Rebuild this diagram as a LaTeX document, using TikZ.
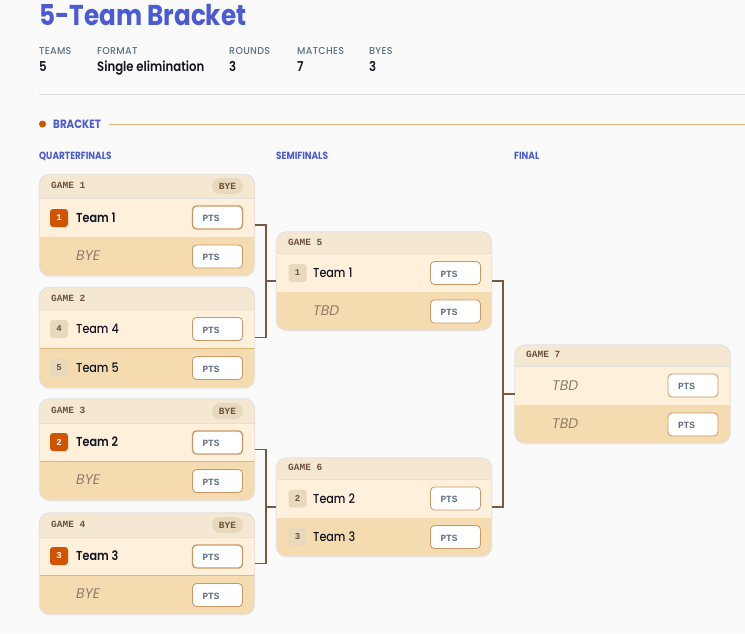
\documentclass[tikz,border=0pt]{standalone}
\usepackage{fontspec}
\setmainfont{Poppins}[FakeStretch=0.86]
\setmonofont{Liberation Mono}
\newfontfamily\keyfont{Poppins Medium}[FakeStretch=0.95,LetterSpace=3]
\newfontfamily\mediumfont{Poppins Medium}[FakeStretch=0.86]
\newfontfamily\strongfont{Poppins SemiBold}[FakeStretch=0.86]
\newfontfamily\blankfont{Poppins}[FakeStretch=1]
\usetikzlibrary{calc,positioning,shadows}
\definecolor{pagebg}{HTML}{FAFAFA}
\definecolor{indigo}{HTML}{4A5BD4}
\definecolor{burnt}{HTML}{D35400}
\definecolor{headbg}{HTML}{F4E8D3}
\definecolor{rowone}{HTML}{FEF0DA}
\definecolor{rowtwo}{HTML}{F5DCB0}
\definecolor{cardline}{HTML}{E2DFDC}
\definecolor{tan}{HTML}{CB9764}
\definecolor{sand}{HTML}{DCB57F}
\definecolor{bracketline}{HTML}{7A5A3A}
\definecolor{inkbrown}{HTML}{6B5238}
\definecolor{seedbg}{HTML}{E8D8BD}
\definecolor{ptsink}{HTML}{5F6F82}
\definecolor{nearblack}{HTML}{14141F}
\tikzstyle{title}     = [anchor=west, inner sep=0pt, text height=20pt, text depth=0pt, font=\fontsize{28.7}{29}\selectfont\bfseries, text=indigo]
\tikzstyle{metakey}   = [anchor=west, inner sep=0pt, text height=7pt, text depth=0pt, font=\fontsize{10}{10}\keyfont, text=ptsink]
\tikzstyle{metaval}   = [anchor=west, inner sep=0pt, text height=9pt, text depth=0pt, font=\fontsize{13.6}{14}\strongfont, text=nearblack]
\tikzstyle{sectname}  = [anchor=west, inner sep=0pt, text height=8pt, text depth=0pt, font=\fontsize{12}{12}\selectfont\bfseries, text=indigo]
\tikzstyle{roundname} = [anchor=west, inner sep=0pt, text height=7pt, text depth=0pt, font=\fontsize{10.4}{11}\selectfont\bfseries, text=indigo]
\tikzstyle{card}      = [fill=rowtwo, rounded corners=10pt, minimum width=215pt, inner sep=0pt, drop shadow={opacity=0.08, shadow xshift=0pt, shadow yshift=-1.5pt}]
\tikzstyle{cardedge}  = [draw=cardline, rounded corners=10pt, line width=0.8pt]
\tikzstyle{rowline}   = [draw=sand, line width=0.8pt]
\tikzstyle{rowplain}  = []
\tikzstyle{gamename}  = [anchor=west, inner sep=0pt, font=\fontsize{9.5}{10}\selectfont\ttfamily\bfseries, text=inkbrown]
\tikzstyle{byetag}    = [rounded corners=8pt, fill=seedbg, minimum width=31pt, minimum height=16pt, inner sep=0pt, font=\fontsize{9.5}{10}\selectfont\ttfamily\bfseries, text=inkbrown]
\tikzstyle{seed}      = [rounded corners=3pt, fill=seedbg, minimum size=18pt, inner sep=0pt, font=\fontsize{9}{10}\selectfont\ttfamily\bfseries, text=inkbrown]
\tikzstyle{topseed}   = [seed, fill=burnt, text=white]
\tikzstyle{team}      = [anchor=west, inner sep=0pt, text height=9pt, text depth=0pt, font=\fontsize{13}{14}\mediumfont, text=nearblack]
\tikzstyle{topteam}   = [team, font=\fontsize{13}{14}\strongfont]
\tikzstyle{empty}     = [team, font=\fontsize{14}{14}\blankfont\itshape, text=inkbrown!75]
\tikzstyle{pts}       = [draw=tan, line width=0.8pt, fill=white, rounded corners=4pt, minimum height=23pt, inner xsep=10pt, inner ysep=0pt, text width=30pt, text height=8pt, text depth=0pt, align=left, font=\fontsize{9.5}{10}\selectfont\ttfamily\bfseries, text=ptsink]
\tikzstyle{ptsmain}   = [pts, line width=1.4pt]
\tikzstyle{bracket}   = [line width=1.6pt, draw=bracketline]
% card parts: name, left, top, header bottom, row split, bottom
\newcommand{\gamecard}[7][rowplain]{
	\node (#2) [card, minimum height={#7pt-#4pt}] at ({#3+107.5},{(#4+#7)/2}) {};
	\fill[rowone] (#3,#5) rectangle ({#3+215},#6);
	\fill[headbg] (#3,#5) [rounded corners=10pt] -- (#3,#4) -- ({#3+215},#4) [sharp corners] -- ({#3+215},#5) -- cycle;
	\draw[draw=cardline, line width=0.8pt] (#3,#5) -- ({#3+215},#5);
	\path[#1] (#3,#6) -- ({#3+215},#6);
	\draw[cardedge] (#2.north west) rectangle (#2.south east);
}
\begin{document}
\begin{tikzpicture}[x=1pt,y=-1pt]
	\useasboundingbox[fill=pagebg] (0,0) rectangle (745,633);

	\node (heading) [title] at (39,15) {5-Team Bracket};

	\node (keyteams) [metakey] at (39,51) {TEAMS};
	\node (keyformat) [metakey] at (97,51) {FORMAT};
	\node (keyrounds) [metakey] at (229,51) {ROUNDS};
	\node (keymatches) [metakey] at (297,51) {MATCHES};
	\node (keybyes) [metakey] at (369,51) {BYES};
	\node (valteams) [metaval] at (39,66.5) {5};
	\node (valformat) [metaval] at (97,66.5) {Single elimination};
	\node (valrounds) [metaval] at (229,66.5) {3};
	\node (valmatches) [metaval] at (297,66.5) {7};
	\node (valbyes) [metaval] at (369,66.5) {3};

	\draw[draw=black!13, line width=0.8pt] (39,94.5) -- (745,94.5);

	\fill[burnt] (42.5,124) circle (3.5);
	\node (section) [sectname] at (53,124) {BRACKET};
	\draw[draw=sand, line width=0.9pt] (109,124) -- (745,124);

	\node (roundq) [roundname] at (39,155.5) {QUARTERFINALS};
	\node (rounds) [roundname] at (276,155.5) {SEMIFINALS};
	\node (roundf) [roundname] at (514,155.5) {FINAL};

	\gamecard{game1}{39.5}{174.5}{198}{237}{275.5}
	\gamecard[rowline]{game2}{39.5}{287.5}{309}{348}{387.5}
	\gamecard[rowline]{game3}{39.5}{399}{423}{461}{500}
	\gamecard[rowline]{game4}{39.5}{513}{537}{575}{614}
	\gamecard{game5}{276.5}{232}{253}{292}{330}
	\gamecard{game6}{276.5}{458}{479}{518}{556}
	\gamecard{game7}{515}{345}{366}{405}{443}

	% game 1
	\node (name1) [gamename] at (51,185) {GAME 1};
	\node (bye1) [byetag] at (227.5,186) {BYE};
	\node (seed1a) [topseed] at (59,218) {1};
	\node (team1a) [topteam] at (76,217.5) {Team 1};
	\node (pts1a) [ptsmain] at (217.5,217.5) {PTS};
	\node (team1b) [empty] at (76,255.5) {BYE};
	\node (pts1b) [pts] at (217.5,256.5) {PTS};

	% game 2
	\node (name2) [gamename] at (51,298) {GAME 2};
	\node (seed2a) [seed] at (59,329) {4};
	\node (team2a) [team] at (76,328.5) {Team 4};
	\node (pts2a) [pts] at (217.5,329) {PTS};
	\node (seed2b) [seed] at (59,367.5) {5};
	\node (team2b) [team] at (76,367.5) {Team 5};
	\node (pts2b) [pts] at (217.5,368) {PTS};

	% game 3
	\node (name3) [gamename] at (51,410) {GAME 3};
	\node (bye3) [byetag] at (227.5,411) {BYE};
	\node (seed3a) [topseed] at (59,442) {2};
	\node (team3a) [topteam] at (76,441.5) {Team 2};
	\node (pts3a) [ptsmain] at (217.5,442.5) {PTS};
	\node (team3b) [empty] at (76,480) {BYE};
	\node (pts3b) [pts] at (217.5,481) {PTS};

	% game 4
	\node (name4) [gamename] at (51,524) {GAME 4};
	\node (bye4) [byetag] at (227.5,525) {BYE};
	\node (seed4a) [topseed] at (59,556) {3};
	\node (team4a) [topteam] at (76,555.5) {Team 3};
	\node (pts4a) [ptsmain] at (217.5,556.5) {PTS};
	\node (team4b) [empty] at (76,594) {BYE};
	\node (pts4b) [pts] at (217.5,595) {PTS};

	% game 5
	\node (name5) [gamename] at (288,242) {GAME 5};
	\node (seed5a) [seed] at (297.5,273) {1};
	\node (team5a) [team] at (313,272.5) {Team 1};
	\node (pts5a) [pts] at (455.5,273) {PTS};
	\node (team5b) [empty] at (313,310.5) {TBD};
	\node (pts5b) [pts] at (455.5,311.5) {PTS};

	% game 6
	\node (name6) [gamename] at (288,467) {GAME 6};
	\node (seed6a) [seed] at (297.5,498.5) {2};
	\node (team6a) [team] at (313,498.5) {Team 2};
	\node (pts6a) [pts] at (455.5,498.5) {PTS};
	\node (seed6b) [seed] at (297.5,536.5) {3};
	\node (team6b) [team] at (313,536.5) {Team 3};
	\node (pts6b) [pts] at (455.5,537) {PTS};

	% game 7
	\node (name7) [gamename] at (526,354) {GAME 7};
	\node (team7a) [empty] at (552,385.5) {TBD};
	\node (pts7a) [pts] at (693,385.5) {PTS};
	\node (team7b) [empty] at (552,423.5) {TBD};
	\node (pts7b) [pts] at (693,424.5) {PTS};

	\coordinate (joinq) at (266,281);
	\coordinate (joinr) at (266,507);
	\coordinate (joins) at (503,394);
	\draw[bracket] (game1.east) -| (joinq) |- (game2.east);
	\draw[bracket] (joinq) -- (game5.west);
	\draw[bracket] (game3.east) -| (joinr) |- (game4.east);
	\draw[bracket] (joinr) -- (game6.west);
	\draw[bracket] (game5.east) -| (joins) |- (game6.east);
	\draw[bracket] (joins) -- (game7.west);
\end{tikzpicture}
\end{document}
